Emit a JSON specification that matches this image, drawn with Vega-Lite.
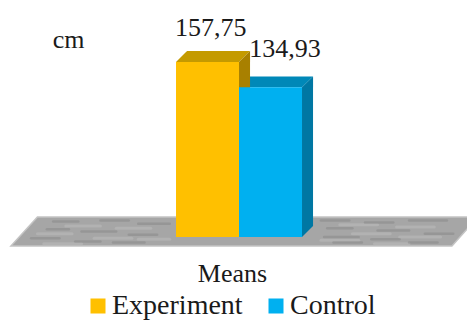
{
  "$schema": "https://vega.github.io/schema/vega-lite/v6.json",
  "width": 467,
  "height": 320,
  "padding": 0,
  "autosize": "none",
  "background": "white",
  "config": {"view": {"stroke": null}, "font": "Liberation Serif"},
  "datasets": {
    "means": [
      {"group": "Experiment", "start": 0, "end": 1, "mean": 157.75, "label": "157,75", "labelX": 0.55, "labelY": 181.2},
      {"group": "Control", "start": 1, "end": 2, "mean": 134.93, "label": "134,93", "labelX": 1.73, "labelY": 162.3}
    ],
    "floor": [
      {"low": -8.1, "left": -2.62, "right": 4.38},
      {"low": 18, "left": -2.2, "right": 4.79}
    ],
    "sides": [
      {"group": "Experiment", "x": 1, "low": 0, "high": 157.75},
      {"group": "Experiment", "x": 1.175, "low": 9.9, "high": 167.65},
      {"group": "Control", "x": 2, "low": 0, "high": 134.93},
      {"group": "Control", "x": 2.175, "low": 9.9, "high": 144.83}
    ],
    "tops": [
      {"group": "Experiment", "y": 157.75, "left": 0, "right": 1},
      {"group": "Experiment", "y": 167.65, "left": 0.175, "right": 1.175},
      {"group": "Control", "y": 134.93, "left": 1, "right": 2},
      {"group": "Control", "y": 144.83, "left": 1.175, "right": 2.175}
    ],
    "grainDark": [
      {"a": -1.95, "b": -1.55, "y": 14},
      {"a": -1.2, "b": -0.75, "y": 15},
      {"a": -0.6, "b": -0.1, "y": 12},
      {"a": -2.05, "b": -1.7, "y": 7},
      {"a": -1.5, "b": -0.95, "y": 5},
      {"a": -0.75, "b": -0.3, "y": 2},
      {"a": -2.3, "b": -1.85, "y": -1},
      {"a": -1.6, "b": -1.2, "y": -4},
      {"a": -1.0, "b": -0.5, "y": -5},
      {"a": 2.3, "b": 2.75, "y": 15},
      {"a": 3.0, "b": 3.45, "y": 13},
      {"a": 3.7, "b": 4.3, "y": 15},
      {"a": 2.4, "b": 2.8, "y": 8},
      {"a": 3.2, "b": 3.7, "y": 6},
      {"a": 3.95, "b": 4.4, "y": 3},
      {"a": 2.35, "b": 2.9, "y": 0},
      {"a": 3.1, "b": 3.55, "y": -2},
      {"a": 3.7, "b": 4.15, "y": -5},
      {"a": 2.5, "b": 2.95, "y": -5}
    ],
    "grainLight": [
      {"a": -1.75, "b": -1.2, "y": 10},
      {"a": -0.95, "b": -0.4, "y": 8},
      {"a": -2.2, "b": -1.65, "y": 3},
      {"a": -1.3, "b": -0.7, "y": -1},
      {"a": -2.1, "b": -1.5, "y": -6},
      {"a": -0.6, "b": -0.1, "y": -2},
      {"a": 2.6, "b": 3.2, "y": 11},
      {"a": 3.5, "b": 4.1, "y": 9},
      {"a": 2.8, "b": 3.4, "y": 3},
      {"a": 3.55, "b": 4.2, "y": 0},
      {"a": 2.3, "b": 2.9, "y": -3},
      {"a": 3.15, "b": 3.7, "y": -6}
    ]
  },
  "layer": [
    {
      "data": {"name": "floor"},
      "mark": {"type": "area", "orient": "horizontal", "color": "#A6A6A6", "stroke": "#C4C4C4", "strokeWidth": 1.5, "clip": true},
      "encoding": {
        "y": {"field": "low", "type": "quantitative", "scale": {"domain": [-74.8, 213.7], "nice": false, "zero": false},
          "axis": {"domain": false, "ticks": false, "labels": false, "grid": false, "title": "cm", "titleAngle": 0, "titleFontSize": 26, "titleFontWeight": "normal", "titleColor": "#1a1a1a", "titleX": 68, "titleY": 47, "titleAlign": "center", "titleBaseline": "alphabetic"}},
        "x": {"field": "left", "type": "quantitative", "scale": {"domain": [-2.794, 4.619], "nice": false, "zero": false},
          "axis": {"domain": false, "ticks": false, "labels": false, "grid": false, "title": "Means", "titleFontSize": 26, "titleFontWeight": "normal", "titleColor": "#1a1a1a", "titleX": 232, "titleY": -39, "titleAlign": "center", "titleBaseline": "alphabetic"}},
        "x2": {"field": "right"}
      }
    },
    {
      "data": {"name": "grainLight"},
      "mark": {"type": "rule", "color": "#BEBEBE", "strokeWidth": 3, "opacity": 0.5, "strokeCap": "round"},
      "encoding": {
        "x": {"field": "a", "type": "quantitative"},
        "x2": {"field": "b"},
        "y": {"field": "y", "type": "quantitative"}
      }
    },
    {
      "data": {"name": "grainDark"},
      "mark": {"type": "rule", "color": "#808080", "strokeWidth": 2.5, "opacity": 0.4, "strokeCap": "round"},
      "encoding": {
        "x": {"field": "a", "type": "quantitative"},
        "x2": {"field": "b"},
        "y": {"field": "y", "type": "quantitative"}
      }
    },
    {
      "data": {"name": "tops"},
      "mark": {"type": "area", "orient": "horizontal"},
      "encoding": {
        "y": {"field": "y", "type": "quantitative"},
        "x": {"field": "left", "type": "quantitative"},
        "x2": {"field": "right"},
        "detail": {"field": "group"},
        "fill": {"field": "group", "type": "nominal", "legend": null, "scale": {"domain": ["Experiment", "Control"], "range": ["#C49A00", "#0088B8"]}}
      }
    },
    {
      "data": {"name": "sides"},
      "mark": {"type": "area"},
      "encoding": {
        "x": {"field": "x", "type": "quantitative"},
        "y": {"field": "low", "type": "quantitative"},
        "y2": {"field": "high"},
        "detail": {"field": "group"},
        "fill": {"field": "group", "type": "nominal", "legend": null, "scale": {"domain": ["Experiment", "Control"], "range": ["#A88000", "#0077A3"]}}
      }
    },
    {
      "data": {"name": "means"},
      "mark": {"type": "rect"},
      "encoding": {
        "x": {"field": "start", "type": "quantitative"},
        "x2": {"field": "end"},
        "y": {"field": "mean", "type": "quantitative"},
        "y2": {"datum": 0},
        "color": {"field": "group", "type": "nominal",
          "scale": {"domain": ["Experiment", "Control"], "range": ["#FFC000", "#00B0F0"]},
          "legend": {"title": null, "orient": "none", "legendX": 84, "legendY": 291, "padding": 0, "direction": "horizontal", "columns": 2, "symbolType": "square", "symbolSize": 225, "symbolStrokeWidth": 0, "symbolOpacity": 1, "labelFont": "Liberation Serif", "labelFontSize": 28, "labelColor": "#1a1a1a", "labelOffset": 0, "columnPadding": 19, "labelLimit": 200, "clipHeight": 30}}
      }
    },
    {
      "data": {"name": "means"},
      "mark": {"type": "text", "font": "Liberation Serif", "fontSize": 26, "color": "#1a1a1a", "baseline": "alphabetic", "align": "center"},
      "encoding": {
        "x": {"field": "labelX", "type": "quantitative"},
        "y": {"field": "labelY", "type": "quantitative"},
        "text": {"field": "label", "type": "nominal"}
      }
    }
  ],
  "resolve": {"scale": {"fill": "independent"}}
}
